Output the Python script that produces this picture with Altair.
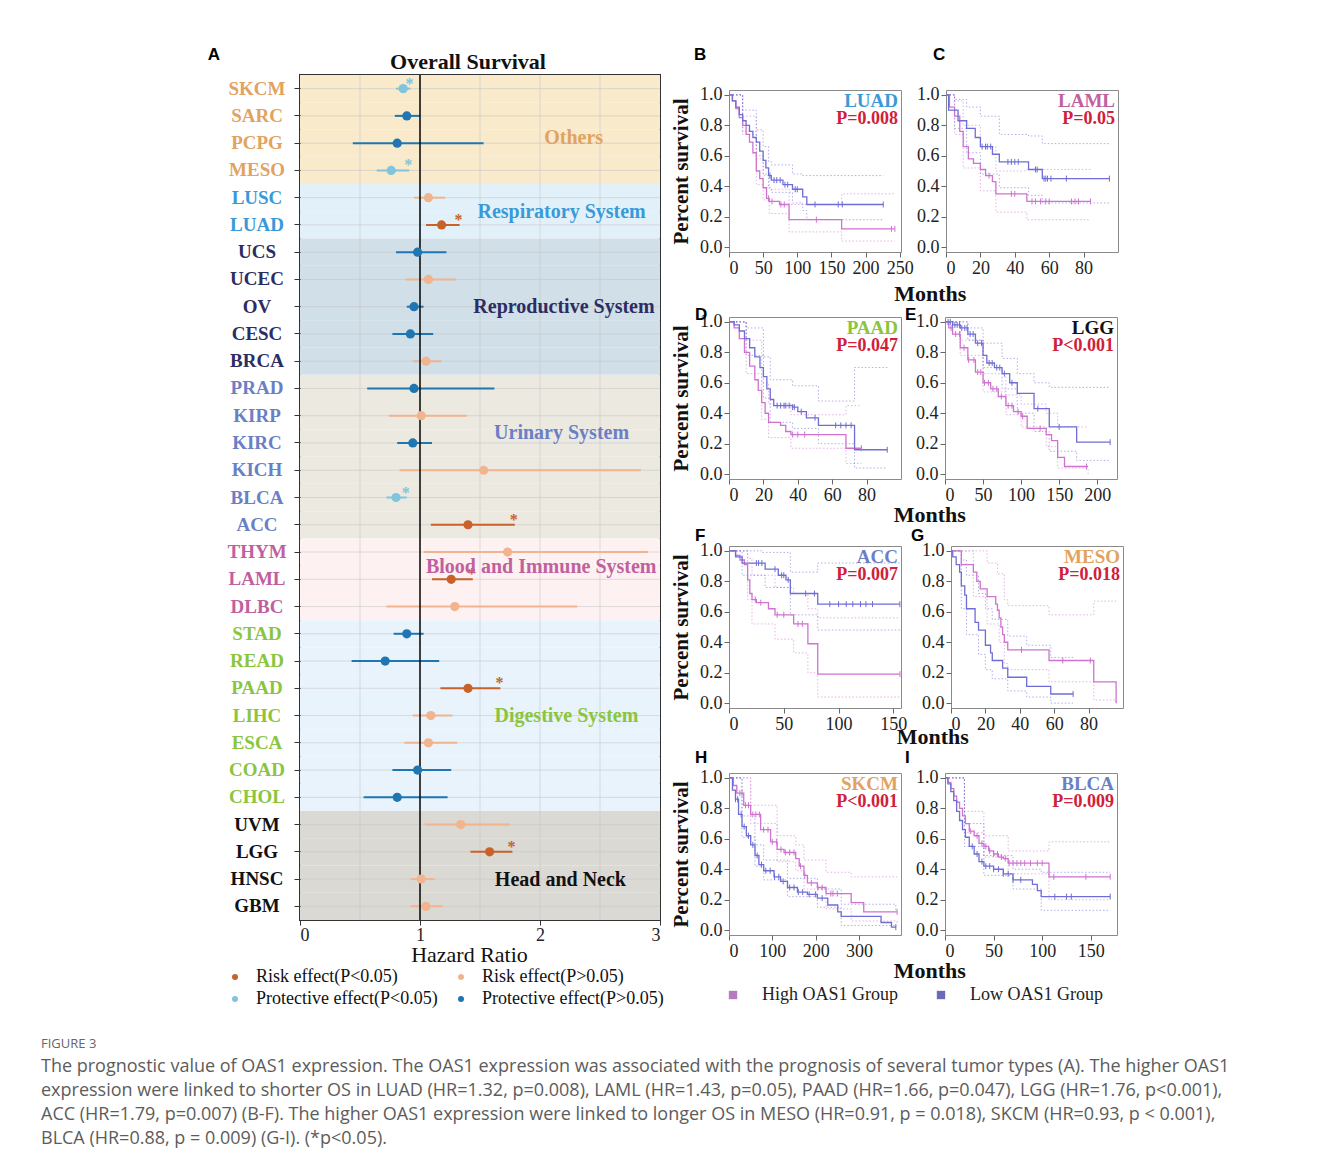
import altair as alt
import pandas as pd

SERIF = "Liberation Serif"
SANS = "Liberation Sans"
CAP_FONT = "Open Sans"

# ---------------- Panel A: forest plot data ----------------
cancers = ["SKCM", "SARC", "PCPG", "MESO", "LUSC", "LUAD", "UCS", "UCEC", "OV", "CESC", "BRCA",
           "PRAD", "KIRP", "KIRC", "KICH", "BLCA", "ACC", "THYM", "LAML", "DLBC",
           "STAD", "READ", "PAAD", "LIHC", "ESCA", "COAD", "CHOL", "UVM", "LGG", "HNSC", "GBM"]
systems = (["Others"] * 4 + ["Respiratory System"] * 2 + ["Reproductive System"] * 5 +
           ["Urinary System"] * 6 + ["Blood and Immune System"] * 3 +
           ["Digestive System"] * 7 + ["Head and Neck"] * 4)
hazard_ratio = [0.86, 0.89, 0.81, 0.76, 1.07, 1.18, 0.98, 1.07, 0.95, 0.92, 1.05,
                0.95, 1.01, 0.94, 1.53, 0.80, 1.40, 1.73, 1.26, 1.29,
                0.89, 0.71, 1.40, 1.09, 1.07, 0.98, 0.81, 1.34, 1.58, 1.01, 1.05]
ci_lower = [0.80, 0.79, 0.44, 0.64, 0.95, 1.05, 0.80, 0.88, 0.89, 0.77, 0.94,
            0.56, 0.74, 0.81, 0.83, 0.72, 1.09, 1.03, 1.10, 0.72,
            0.78, 0.43, 1.17, 0.94, 0.87, 0.77, 0.53, 1.04, 1.42, 0.92, 0.92]
ci_upper = [0.92, 1.00, 1.53, 0.91, 1.21, 1.33, 1.22, 1.30, 1.03, 1.11, 1.18,
            1.62, 1.39, 1.10, 2.84, 0.89, 1.79, 2.90, 1.44, 2.31,
            1.03, 1.16, 1.67, 1.27, 1.31, 1.26, 1.23, 1.75, 1.77, 1.12, 1.19]
significant = [True, False, False, True, False, True, False, False, False, False, False,
               False, False, False, False, True, True, False, True, False,
               False, False, True, False, False, False, False, False, True, False, False]
hr_gridlines = [0.5, 1.5, 2.0, 2.5]
hr_ticks = [0, 1, 2, 3]

# ---------------- Panels B-I: Kaplan-Meier data (months, survival) ----------------
KM_LUAD = dict(
    high=[(0, 1.0), (5, 0.96), (10, 0.91), (15, 0.85), (20, 0.80), (25, 0.74), (30, 0.69), (35, 0.62),
          (40, 0.50), (45, 0.45), (50, 0.39), (55, 0.32), (59, 0.30), (74, 0.28), (88, 0.18), (165, 0.12), (243, 0.12)],
    low=[(0, 1.0), (5, 0.96), (10, 0.92), (15, 0.87), (20, 0.83), (25, 0.80), (30, 0.76), (35, 0.72), (40, 0.69),
         (45, 0.63), (50, 0.57), (54, 0.52), (58, 0.47), (62, 0.44), (79, 0.41), (93, 0.38), (108, 0.33),
         (114, 0.28), (226, 0.28)],
    high_up=[(0, 1.0), (20, 0.86), (40, 0.58), (50, 0.47), (59, 0.38), (88, 0.28), (165, 0.35), (243, 0.35)],
    high_lo=[(0, 1.0), (20, 0.74), (40, 0.41), (50, 0.31), (59, 0.22), (88, 0.10), (165, 0.04), (243, 0.04)],
    low_up=[(0, 1.0), (20, 0.90), (40, 0.77), (50, 0.66), (58, 0.56), (62, 0.54), (93, 0.48), (108, 0.47), (226, 0.47)],
    low_lo=[(0, 1.0), (20, 0.76), (40, 0.60), (50, 0.48), (58, 0.39), (62, 0.36), (93, 0.29), (108, 0.24),
            (114, 0.18), (226, 0.18)],
    high_cens=[58, 63, 76, 81, 128, 238, 243],
    low_cens=[60, 66, 70, 75, 82, 86, 97, 100, 126, 160, 166, 226],
)
KM_LAML = dict(
    high=[(0, 1.0), (2, 0.92), (5, 0.86), (8, 0.76), (10, 0.66), (13, 0.58), (16, 0.55), (20, 0.51), (23, 0.47),
          (27, 0.43), (29, 0.35), (47, 0.30), (84, 0.30)],
    low=[(0, 1.0), (1.5, 0.90), (7, 0.83), (12, 0.78), (17, 0.72), (20, 0.66), (27, 0.61), (31, 0.56), (48, 0.51),
         (56, 0.45), (95, 0.45)],
    high_up=[(0, 1.0), (5, 0.96), (10, 0.80), (20, 0.66), (29, 0.50), (47, 0.51), (84, 0.51)],
    high_lo=[(0, 1.0), (5, 0.74), (10, 0.52), (20, 0.37), (29, 0.23), (47, 0.18), (84, 0.18)],
    low_up=[(0, 1.0), (5, 0.97), (12, 0.92), (20, 0.86), (31, 0.74), (48, 0.73), (56, 0.68), (95, 0.68)],
    low_lo=[(0, 1.0), (5, 0.78), (12, 0.62), (20, 0.48), (31, 0.39), (48, 0.34), (56, 0.29), (95, 0.29)],
    high_cens=[25, 38, 40, 50, 52, 55, 58, 60, 73, 75, 77, 84],
    low_cens=[21, 23, 24, 26, 36, 38, 40, 42, 52, 53, 57, 58, 59, 61, 70, 95],
)
KM_PAAD = dict(
    high=[(0, 1.0), (3, 0.96), (6, 0.89), (9, 0.80), (12, 0.71), (15, 0.62), (17, 0.55), (19, 0.47), (21, 0.40),
          (23, 0.34), (30, 0.32), (33, 0.28), (36, 0.26), (68, 0.17), (77, 0.17)],
    low=[(0, 1.0), (3, 0.98), (6, 0.94), (9, 0.89), (12, 0.83), (15, 0.77), (18, 0.70), (20, 0.64), (22, 0.56),
         (24, 0.49), (26, 0.45), (37, 0.44), (40, 0.41), (45, 0.37), (52, 0.32), (73, 0.16), (92, 0.16)],
    high_up=[(0, 1.0), (10, 0.88), (19, 0.60), (23, 0.46), (36, 0.39), (68, 0.45), (77, 0.45)],
    high_lo=[(0, 1.0), (10, 0.66), (19, 0.36), (23, 0.24), (36, 0.17), (68, 0.07), (77, 0.07)],
    low_up=[(0, 1.0), (10, 0.96), (20, 0.77), (24, 0.62), (37, 0.58), (52, 0.48), (73, 0.70), (92, 0.70)],
    low_lo=[(0, 1.0), (10, 0.78), (20, 0.50), (24, 0.34), (37, 0.30), (52, 0.20), (73, 0.04), (92, 0.04)],
    high_cens=[37, 40, 44, 77],
    low_cens=[28, 30, 32, 33, 35, 37, 38, 42, 50, 62, 65, 68, 71, 92],
)
KM_LGG = dict(
    high=[(0, 1.0), (5, 0.96), (10, 0.92), (20, 0.83), (30, 0.75), (40, 0.67), (50, 0.60), (60, 0.56), (70, 0.51),
          (80, 0.45), (90, 0.41), (100, 0.38), (108, 0.30), (133, 0.26), (140, 0.22), (148, 0.11), (157, 0.05),
          (188, 0.05)],
    low=[(0, 1.0), (10, 0.98), (20, 0.96), (30, 0.92), (40, 0.86), (50, 0.78), (55, 0.73), (65, 0.70), (75, 0.66),
         (85, 0.60), (95, 0.53), (117, 0.43), (137, 0.31), (173, 0.21), (217, 0.21)],
    high_up=[(0, 1.0), (20, 0.88), (50, 0.66), (80, 0.52), (100, 0.46), (133, 0.40), (148, 0.31), (188, 0.31)],
    high_lo=[(0, 1.0), (20, 0.78), (50, 0.54), (80, 0.39), (100, 0.31), (133, 0.18), (148, 0.04), (188, 0.0)],
    low_up=[(0, 1.0), (30, 0.96), (50, 0.86), (75, 0.76), (95, 0.66), (117, 0.60), (137, 0.57), (217, 0.57)],
    low_lo=[(0, 1.0), (30, 0.88), (50, 0.70), (75, 0.56), (95, 0.40), (117, 0.28), (137, 0.15), (173, 0.09),
            (217, 0.09)],
    high_cens=[8, 14, 19, 25, 31, 38, 43, 47, 52, 57, 63, 68, 74, 83, 88, 96, 102, 125, 186],
    low_cens=[4, 7, 10, 13, 16, 19, 22, 26, 29, 33, 37, 43, 48, 58, 62, 68, 72, 78, 88, 122, 150, 217],
)
KM_ACC = dict(
    high=[(0, 1.0), (6, 0.97), (10, 0.94), (14, 0.91), (17, 0.81), (19, 0.72), (21, 0.68), (25, 0.66), (36, 0.62),
          (42, 0.58), (59, 0.52), (72, 0.39), (81, 0.19), (156, 0.19)],
    low=[(0, 1.0), (6, 0.96), (12, 0.92), (33, 0.88), (45, 0.84), (52, 0.81), (56, 0.72), (81, 0.65), (156, 0.65)],
    high_up=[(0, 1.0), (17, 0.95), (21, 0.84), (42, 0.76), (59, 0.72), (72, 0.62), (81, 0.56), (156, 0.56)],
    high_lo=[(0, 1.0), (17, 0.68), (21, 0.52), (42, 0.42), (59, 0.33), (72, 0.20), (81, 0.04), (156, 0.04)],
    low_up=[(0, 1.0), (30, 0.99), (56, 0.86), (81, 0.92), (156, 0.92)],
    low_lo=[(0, 1.0), (12, 0.84), (33, 0.76), (56, 0.58), (81, 0.48), (156, 0.48)],
    high_cens=[24, 29, 44, 50, 63, 67, 156],
    low_cens=[25, 27, 30, 42, 48, 50, 54, 70, 78, 92, 100, 107, 113, 120, 125, 131, 156],
)
KM_MESO = dict(
    high=[(0, 1.0), (6, 0.91), (13, 0.86), (15, 0.80), (17, 0.75), (21, 0.70), (26, 0.65), (27, 0.61), (28, 0.56),
          (29, 0.50), (30, 0.45), (31, 0.40), (33, 0.35), (57, 0.28), (83, 0.14), (96, 0.0)],
    low=[(0, 1.0), (1, 0.96), (3, 0.91), (5, 0.86), (6, 0.77), (8, 0.71), (9, 0.62), (14, 0.53), (16, 0.48),
         (20, 0.38), (23, 0.33), (24, 0.28), (30, 0.23), (33, 0.17), (44, 0.11), (58, 0.06), (71, 0.06)],
    high_up=[(0, 1.0), (15, 1.0), (21, 0.92), (27, 0.85), (31, 0.68), (33, 0.64), (57, 0.58), (83, 0.67), (96, 0.67)],
    high_lo=[(0, 1.0), (13, 0.70), (21, 0.52), (28, 0.40), (31, 0.26), (33, 0.22), (57, 0.14), (83, 0.02), (96, 0.0)],
    low_up=[(0, 1.0), (6, 0.94), (9, 0.84), (16, 0.72), (20, 0.62), (24, 0.55), (33, 0.44), (44, 0.38), (58, 0.30),
            (71, 0.30)],
    low_lo=[(0, 1.0), (6, 0.62), (9, 0.45), (16, 0.32), (20, 0.22), (24, 0.16), (33, 0.08), (44, 0.04), (58, 0.0),
            (71, 0.0)],
    high_cens=[41, 65, 81],
    low_cens=[71],
)
KM_SKCM = dict(
    high=[(0, 1.0), (10, 0.95), (18, 0.90), (34, 0.82), (50, 0.76), (73, 0.66), (96, 0.58), (111, 0.53), (127, 0.51),
          (154, 0.47), (162, 0.42), (173, 0.36), (181, 0.31), (204, 0.28), (224, 0.24), (282, 0.18), (311, 0.12),
          (388, 0.12)],
    low=[(0, 1.0), (8, 0.92), (15, 0.86), (22, 0.76), (30, 0.68), (40, 0.62), (50, 0.56), (60, 0.49), (69, 0.43),
         (80, 0.39), (104, 0.35), (119, 0.32), (135, 0.28), (158, 0.25), (181, 0.235), (204, 0.21), (228, 0.165),
         (251, 0.12), (259, 0.09), (351, 0.05), (375, 0.02), (385, 0.02)],
    high_up=[(0, 1.0), (50, 0.82), (111, 0.62), (154, 0.56), (173, 0.46), (224, 0.38), (282, 0.35), (388, 0.35)],
    high_lo=[(0, 1.0), (50, 0.70), (111, 0.45), (154, 0.39), (173, 0.27), (224, 0.14), (282, 0.06), (388, 0.03)],
    low_up=[(0, 1.0), (30, 0.75), (60, 0.56), (80, 0.46), (135, 0.34), (204, 0.27), (259, 0.17), (385, 0.12)],
    low_lo=[(0, 1.0), (30, 0.61), (60, 0.42), (80, 0.33), (135, 0.22), (204, 0.15), (259, 0.03), (385, 0.0)],
    high_cens=[25, 30, 38, 45, 55, 62, 70, 80, 90, 100, 110, 120, 130, 140, 150, 165, 175, 190, 205, 215, 235, 240,
               250, 388],
    low_cens=[15, 20, 28, 35, 45, 55, 65, 75, 85, 95, 105, 115, 125, 140, 150, 160, 170, 185, 200, 215, 385],
)
KM_BLCA = dict(
    high=[(0, 1.0), (3, 0.97), (6, 0.93), (9, 0.88), (12, 0.84), (15, 0.80), (18, 0.75), (21, 0.70), (25, 0.65),
          (30, 0.62), (35, 0.57), (40, 0.55), (45, 0.52), (50, 0.50), (55, 0.48), (60, 0.47), (65, 0.44), (107, 0.35),
          (170, 0.35)],
    low=[(0, 1.0), (3, 0.96), (6, 0.91), (9, 0.85), (12, 0.78), (15, 0.72), (18, 0.66), (21, 0.61), (25, 0.55),
         (30, 0.50), (35, 0.45), (40, 0.42), (50, 0.40), (60, 0.37), (70, 0.33), (90, 0.30), (95, 0.26), (99, 0.22),
         (170, 0.22)],
    high_up=[(0, 1.0), (20, 0.78), (40, 0.62), (65, 0.52), (107, 0.58), (170, 0.58)],
    high_lo=[(0, 1.0), (20, 0.64), (40, 0.48), (65, 0.37), (107, 0.20), (170, 0.20)],
    low_up=[(0, 1.0), (20, 0.70), (40, 0.49), (70, 0.40), (99, 0.38), (170, 0.38)],
    low_lo=[(0, 1.0), (20, 0.55), (40, 0.36), (70, 0.27), (99, 0.13), (170, 0.13)],
    high_cens=[26, 33, 38, 42, 46, 50, 54, 58, 62, 66, 70, 74, 78, 82, 88, 95, 100, 112, 145, 170],
    low_cens=[28, 33, 38, 42, 46, 50, 55, 60, 65, 70, 78, 113, 125, 130, 170],
)

caption_title = "FIGURE 3"
caption_lines = [
    "The prognostic value of OAS1 expression. The OAS1 expression was associated with the prognosis of several tumor types (A). The higher OAS1",
    "expression were linked to shorter OS in LUAD (HR=1.32, p=0.008), LAML (HR=1.43, p=0.05), PAAD (HR=1.66, p=0.047), LGG (HR=1.76, p<0.001),",
    "ACC (HR=1.79, p=0.007) (B-F). The higher OAS1 expression were linked to longer OS in MESO (HR=0.91, p = 0.018), SKCM (HR=0.93, p < 0.001),",
    "BLCA (HR=0.88, p = 0.009) (G-I). (*p<0.05).",
]

# ---------------- styles ----------------
LABEL_COLORS = {"Others": "#E1A35F", "Respiratory System": "#3A99D8", "Reproductive System": "#2C2D62",
                "Urinary System": "#6B7FC5", "Blood and Immune System": "#C1609F",
                "Digestive System": "#8BC53F", "Head and Neck": "#111111"}
BG_COLORS = {"Others": "#F8EACB", "Respiratory System": "#E2F1F9", "Reproductive System": "#D1DFE8",
             "Urinary System": "#ECE9E1", "Blood and Immune System": "#FDF2F1",
             "Digestive System": "#E8F3FC", "Head and Neck": "#DBD9D4"}
EFFECTS = ["Risk effect(P<0.05)", "Risk effect(P>0.05)", "Protective effect(P<0.05)", "Protective effect(P>0.05)"]
EFFECT_COLORS = ["#C8622A", "#F1B48E", "#80C4DE", "#1F76B0"]
KM_GROUPS = ["High OAS1 Group", "Low OAS1 Group"]
KM_COLORS = ["#CF72D0", "#6E6ED6"]
KM_LEGEND_COLORS = ["#B47CBE", "#6B6BBA"]
P_RED = "#D0203A"


def letter_title(text, anchor, dx, offset):
    return alt.Title(text, anchor=anchor, frame="group", dx=dx, offset=offset, font=SANS, fontSize=17,
                     fontWeight="bold", color="#000")


def blank(w, h, title=None):
    c = alt.Chart(pd.DataFrame({"a": [0]})).mark_point(opacity=0, size=1).encode(x=alt.value(0), y=alt.value(0))
    if title is not None:
        return c.properties(width=w, height=h, title=title)
    return c.properties(width=w, height=h)


# ---------------- Panel A ----------------
fdf = pd.DataFrame({"cancer": cancers, "system": systems, "hr": hazard_ratio,
                    "lo": ci_lower, "hi": ci_upper, "sig": significant})
fdf["effect"] = [("Risk" if h > 1 else "Protective") + " effect(P" + ("<" if s else ">") + "0.05)"
                 for h, s in zip(hazard_ratio, significant)]
fdf["ecol"] = fdf["effect"].map(dict(zip(EFFECTS, EFFECT_COLORS)))
fdf["bg"] = fdf["system"].map(BG_COLORS)
fdf["lab"] = fdf["system"].map(LABEL_COLORS)
fdf["x0"] = hr_ticks[0]
fdf["x1"] = hr_ticks[-1]

xsc = alt.Scale(domain=[hr_ticks[0], hr_ticks[-1]], nice=False, zero=False)
ysc = alt.Scale(domain=cancers, paddingInner=0, paddingOuter=0)
XAX = alt.Axis(values=hr_ticks, title="Hazard Ratio", grid=False, domain=False, tickSize=5, tickColor="#333",
               labelFont=SERIF, labelFontSize=18, labelColor="#222", labelPadding=1,
               titleFont=SERIF, titleFontSize=22, titleFontWeight="normal", titleColor="#111",
               titlePadding=0, titleX=169)
YAX = alt.Axis(labels=False, title=None, ticks=True, tickSize=6, tickColor="#333", domain=False, grid=False)
Y = alt.Y("cancer:N", scale=ysc, axis=YAX)

base = alt.Chart(fdf)
bg = base.mark_rect().encode(x=alt.X("x0:Q", scale=xsc, axis=XAX), x2="x1:Q", y=Y,
                             color=alt.Color("bg:N", scale=None))
vgrid = alt.Chart(pd.DataFrame({"g": hr_gridlines})).mark_rule(color="#c4c4c4", strokeWidth=1, opacity=0.55).encode(
    x=alt.X("g:Q", scale=xsc, axis=XAX))
hgrid = base.mark_rule(color="#c4c4c4", strokeWidth=1, opacity=0.55).encode(y=Y)
ci = base.mark_rule(strokeWidth=2).encode(x=alt.X("lo:Q", scale=xsc, axis=XAX), x2="hi:Q", y=Y,
                                          color=alt.Color("ecol:N", scale=None))
one = alt.Chart(pd.DataFrame({"v": [1]})).mark_rule(color="#111", strokeWidth=1.6).encode(
    x=alt.X("v:Q", scale=xsc, axis=XAX))
pts = base.mark_circle(size=85, opacity=1).encode(
    x=alt.X("hr:Q", scale=xsc, axis=XAX), y=Y,
    color=alt.Color("effect:N", scale=alt.Scale(domain=EFFECTS, range=EFFECT_COLORS),
                    legend=alt.Legend(orient="none", legendX=-74, legendY=893, columns=2, direction="horizontal",
                                      title=None, symbolType="circle", symbolSize=36, labelFont=SERIF,
                                      labelFontSize=18, labelColor="#111", labelOffset=12, columnPadding=14,
                                      rowPadding=4, padding=0, labelLimit=400)))
stars = alt.Chart(fdf[fdf["sig"]]).mark_text(text="*", font=SERIF, fontSize=16, fontWeight="bold", dx=-1, dy=-5).encode(
    x=alt.X("hi:Q", scale=xsc, axis=XAX), y=Y, color=alt.Color("ecol:N", scale=None))
ylabels = base.mark_text(font=SERIF, fontSize=19, fontWeight="bold", align="center", baseline="middle").encode(
    x=alt.value(-43), y=Y, text="cancer:N", color=alt.Color("lab:N", scale=None))

# in-plot system labels: (system, row it sits on, vertical nudge, HR position of its centre)
system_labels = [("Others", "PCPG", -5, 2.28), ("Respiratory System", "LUAD", -13, 2.18),
                 ("Reproductive System", "OV", 0, 2.20), ("Urinary System", "KIRC", -10, 2.18),
                 ("Blood and Immune System", "LAML", -12, 2.01), ("Digestive System", "LIHC", 0, 2.22),
                 ("Head and Neck", "HNSC", 1, 2.17)]
sys_layers = []
for name, row, dy, gx in system_labels:
    sdf = pd.DataFrame({"name": [name], "cancer": [row], "gx": [gx], "col": [LABEL_COLORS[name]]})
    sys_layers.append(alt.Chart(sdf).mark_text(font=SERIF, fontSize=20, fontWeight="bold", dy=dy).encode(
        x=alt.X("gx:Q", scale=xsc, axis=XAX), y=Y, text="name:N", color=alt.Color("col:N", scale=None)))

forest = alt.layer(bg, vgrid, hgrid, ci, one, pts, stars, ylabels, *sys_layers).properties(
    width=360, height=845,
    title=alt.Title("Overall Survival", font=SERIF, fontSize=22, fontWeight="bold", color="#111",
                    frame="group", anchor="middle", dx=-12, offset=0),
    view=alt.ViewBackground(stroke="#333", strokeWidth=2))
letter_a = blank(179, 1, letter_title("A", "end", 0, 11))


# ---------------- Panels B-I ----------------
def step_value(curve, t):
    val = curve[0][1]
    for ti, si in curve:
        if ti <= t:
            val = si
    return val


def km_panel(letter, d, name, system, ptxt, xmax, xticks, left, letter_offset):
    W, H = 172, 162
    rows = []
    for key, grp in (("high", KM_GROUPS[0]), ("low", KM_GROUPS[1])):
        for suffix in ("", "_up", "_lo"):
            for t, s in d[key + suffix]:
                rows.append({"t": t, "s": s, "grp": grp, "ser": key + suffix})
    cdf = pd.DataFrame(rows)
    cens = []
    for key, grp in (("high", KM_GROUPS[0]), ("low", KM_GROUPS[1])):
        for t in d[key + "_cens"]:
            cens.append({"t": t, "s": step_value(d[key], t), "grp": grp})
    cens_df = pd.DataFrame(cens)

    xax = alt.Axis(values=xticks, title=None, grid=False, domain=False, tickSize=5, tickColor="#666",
                   labelFont=SERIF, labelFontSize=18, labelColor="#222", labelPadding=2)
    yax_kw = dict(values=[0, 0.2, 0.4, 0.6, 0.8, 1.0], format=".1f", grid=False, domain=False, tickSize=5,
                  tickColor="#666", labelFont=SERIF, labelFontSize=18, labelColor="#222", labelPadding=2)
    if left:
        yax = alt.Axis(title="Percent survival", titleFont=SERIF, titleFontSize=21, titleFontWeight="bold",
                       titleColor="#111", titlePadding=8, **yax_kw)
    else:
        yax = alt.Axis(title=None, **yax_kw)
    X = alt.X("t:Q", scale=alt.Scale(domain=[0, xmax], nice=False, zero=False), axis=xax)
    Yk = alt.Y("s:Q", scale=alt.Scale(domain=[-0.032, 1.032], nice=False, zero=False), axis=yax)
    C = alt.Color("grp:N", scale=alt.Scale(domain=KM_GROUPS, range=KM_COLORS), legend=None)

    ci_lines = alt.Chart(cdf[cdf["ser"].str.contains("_")]).mark_line(
        interpolate="step-after", strokeDash=[1.5, 2], strokeWidth=1, opacity=0.55).encode(
        x=X, y=Yk, color=C, detail="ser:N")
    lines = alt.Chart(cdf[~cdf["ser"].str.contains("_")]).mark_line(
        interpolate="step-after", strokeWidth=1.3).encode(x=X, y=Yk, color=C, detail="ser:N")
    ticks = alt.Chart(cens_df).mark_point(shape="M0,-1L0,1", size=36, strokeWidth=1, filled=False,
                                          opacity=1).encode(x=X, y=Yk, color=C)
    name_txt = alt.Chart(pd.DataFrame({"a": [name]})).mark_text(
        align="right", baseline="top", font=SERIF, fontSize=19, fontWeight="bold",
        color=LABEL_COLORS[system]).encode(x=alt.value(W - 3), y=alt.value(2), text="a:N")
    p_txt = alt.Chart(pd.DataFrame({"a": [ptxt]})).mark_text(
        align="right", baseline="top", font=SERIF, fontSize=18, fontWeight="bold",
        color=P_RED).encode(x=alt.value(W - 3), y=alt.value(20), text="a:N")
    props = dict(width=W, height=H, view=alt.ViewBackground(stroke="#8a8a8a", strokeWidth=1))
    if letter is not None:
        props["title"] = letter_title(letter, "start", -34 if left else -40, letter_offset)
    return alt.layer(ci_lines, lines, ticks, name_txt, p_txt).properties(**props)


# first row: panel letters sit on a thin spacer row so the row lines up like the reference
letters_bc = alt.hconcat(blank(200, 9, letter_title("B", "start", -35, 11)),
                         blank(200, 9, letter_title("C", "start", -45, 11)), spacing=2)
B = km_panel(None, KM_LUAD, "LUAD", "Respiratory System", "P=0.008", 252, [0, 50, 100, 150, 200, 250], True, 0)
C_ = km_panel(None, KM_LAML, "LAML", "Blood and Immune System", "P=0.05", 100, [0, 20, 40, 60, 80], False, 0)
D = km_panel("D", KM_PAAD, "PAAD", "Digestive System", "P=0.047", 100, [0, 20, 40, 60, 80], True, -11)
E = km_panel("E", KM_LGG, "LGG", "Head and Neck", "P<0.001", 226, [0, 50, 100, 150, 200], False, -11)
F = km_panel("F", KM_ACC, "ACC", "Urinary System", "P=0.007", 157, [0, 50, 100, 150], True, -3)
G = km_panel("G", KM_MESO, "MESO", "Others", "P=0.018", 100, [0, 20, 40, 60, 80], False, -3)
Hh = km_panel("H", KM_SKCM, "SKCM", "Others", "P<0.001", 397, [0, 100, 200, 300], True, 2)
I = km_panel("I", KM_BLCA, "BLCA", "Urinary System", "P=0.009", 177, [0, 50, 100, 150], False, 2)


def months_row(a, b, off):
    return alt.hconcat(a, b, spacing=2, title=alt.Title("Months", orient="bottom", anchor="middle", dx=36,
                                                        offset=off, font=SERIF, fontSize=22,
                                                        fontWeight="bold", color="#111"))


km_legend = alt.Chart(pd.DataFrame({"g": KM_GROUPS})).mark_square(size=0).encode(
    color=alt.Color("g:N", scale=alt.Scale(domain=KM_GROUPS, range=KM_LEGEND_COLORS),
                    legend=alt.Legend(orient="none", legendX=-5, legendY=4, direction="horizontal", title=None,
                                      symbolType="square", symbolSize=70, symbolOpacity=1, labelFont=SERIF,
                                      labelFontSize=18, labelColor="#222", labelOffset=20, columnPadding=33,
                                      padding=0, labelLimit=400))).properties(width=1, height=1)

km_grid = alt.vconcat(letters_bc, months_row(B, C_, 6), months_row(D, E, 0), months_row(F, G, -7),
                      months_row(Hh, I, 0), km_legend, spacing=0).resolve_scale(color="independent")

top = alt.hconcat(letter_a, forest, km_grid, spacing=4).resolve_scale(color="independent")

cap = alt.Chart(pd.DataFrame({"i": list(range(len(caption_lines))), "t": caption_lines})).mark_text(
    align="left", baseline="middle", font=CAP_FONT, fontSize=18, color="#5c5c5c").encode(
    x=alt.value(0), y=alt.Y("i:O", axis=None, scale=alt.Scale(paddingInner=0, paddingOuter=0)),
    text="t:N").properties(width=1240, height=96,
                           title=alt.Title(caption_title, anchor="start", frame="group", font=CAP_FONT,
                                           fontSize=13, color="#666", fontWeight="normal", offset=4))

chart = alt.vconcat(top, cap, spacing=28).resolve_scale(color="independent").properties(
    padding={"left": 32, "top": 37, "right": 5, "bottom": 5}
).configure_view(stroke="transparent")

chart.save("out.html", embed_options={"renderer": "svg", "actions": False})
